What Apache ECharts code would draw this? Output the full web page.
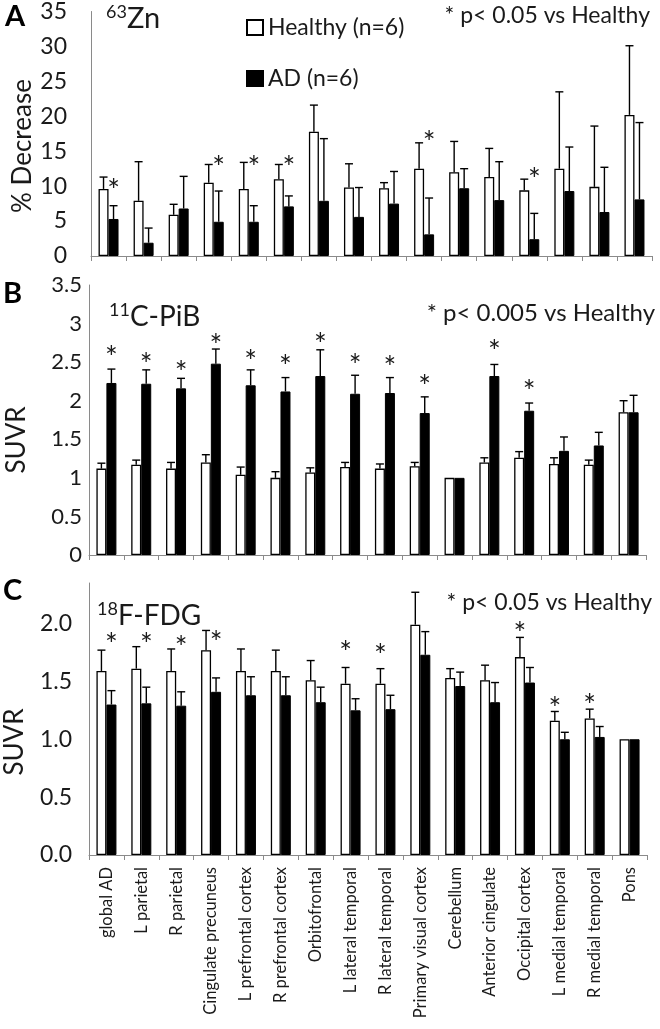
<!DOCTYPE html>
<html>
<head>
<meta charset="utf-8">
<script src="https://cdn.jsdelivr.net/npm/echarts@6/dist/echarts.min.js"></script>
<style>html,body{margin:0;padding:0;background:#fff}#c{width:660px;height:1029px}</style>
</head>
<body>
<div id="c"></div>
<script>
const categories = ['global AD','L parietal','R parietal','Cingulate precuneus','L prefrontal cortex','R prefrontal cortex','Orbitofrontal','L lateral temporal','R lateral temporal','Primary visual cortex','Cerebellum','Anterior cingulate','Occipital cortex','L medial temporal','R medial temporal','Pons'];
const seriesNames = ['Healthy (n=6)', 'AD (n=6)'];

// Panel A: 63Zn % decrease
const healthyA    = [9.6, 7.9, 5.9, 10.5, 9.6, 11.0, 17.8, 9.8, 9.7, 12.5, 12.0, 11.3, 9.4, 12.5, 9.9, 20.2];
const healthyErrA = [1.7, 5.6, 1.5, 2.6, 3.8, 2.1, 3.8, 3.4, 0.8, 3.7, 4.4, 4.1, 1.6, 11.0, 8.7, 9.9];
const adA         = [5.3, 1.9, 6.8, 4.9, 4.9, 7.1, 7.9, 5.6, 7.5, 3.1, 9.7, 8.0, 2.4, 9.3, 6.3, 8.1];
const adErrA      = [1.9, 2.1, 4.6, 4.4, 2.3, 1.5, 8.9, 4.2, 4.6, 5.2, 2.8, 5.5, 3.7, 6.3, 6.4, 11.0];
// stars: [category index, y value, bar (0 healthy, 1 AD)]
const starsA = [[0,10.3,1],[3,13.5,1],[4,13.5,1],[5,13.5,1],[9,17.1,1],[12,11.9,1]];

// Panel B: 11C-PiB SUVR
const healthyB    = [1.12, 1.17, 1.12, 1.20, 1.04, 1.00, 1.07, 1.14, 1.12, 1.15, 1.00, 1.20, 1.26, 1.18, 1.17, 1.85];
const healthyErrB = [0.07, 0.06, 0.08, 0.10, 0.10, 0.08, 0.06, 0.06, 0.06, 0.05, 0.00, 0.06, 0.08, 0.08, 0.06, 0.15];
const adB         = [2.23, 2.22, 2.16, 2.48, 2.20, 2.12, 2.32, 2.09, 2.10, 1.84, 1.00, 2.32, 1.87, 1.35, 1.42, 1.85];
const adErrB      = [0.18, 0.18, 0.13, 0.19, 0.20, 0.18, 0.34, 0.24, 0.20, 0.21, 0.00, 0.15, 0.10, 0.18, 0.17, 0.22];
const starsB = [[0,2.635,1],[1,2.55,1],[2,2.45,1],[3,2.79,1],[4,2.59,1],[5,2.52,1],[6,2.81,1],[7,2.54,1],[8,2.51,1],[9,2.27,1],[11,2.72,1],[12,2.20,1]];

// Panel C: 18F-FDG SUVR
const healthyC    = [1.59, 1.61, 1.59, 1.77, 1.59, 1.59, 1.51, 1.48, 1.48, 1.99, 1.53, 1.51, 1.71, 1.16, 1.18, 1.00];
const healthyErrC = [0.18, 0.19, 0.19, 0.17, 0.19, 0.18, 0.17, 0.14, 0.13, 0.28, 0.08, 0.13, 0.17, 0.08, 0.08, 0.00];
const adC         = [1.30, 1.31, 1.29, 1.41, 1.38, 1.38, 1.32, 1.25, 1.26, 1.73, 1.46, 1.32, 1.49, 1.00, 1.02, 1.00];
const adErrC      = [0.12, 0.14, 0.12, 0.12, 0.16, 0.16, 0.13, 0.10, 0.12, 0.20, 0.12, 0.17, 0.13, 0.06, 0.09, 0.00];
const starsC = [[0,1.876,1],[1,1.868,1],[2,1.847,1],[3,1.89,1],[7,1.80,0],[8,1.775,0],[12,1.963,0],[13,1.322,0],[14,1.348,0]];

const FONT = 'Lato';
const AXIS_GRAY = '#8a8a8a';
const TEXT = '#1a1a1a';
const BAR_W = 10;

const chart = echarts.init(document.getElementById('c'), null, {renderer: 'canvas'});

function errSeries(idx, means, errs, side) {
  return {
    type: 'custom', xAxisIndex: idx, yAxisIndex: idx, z: 5, silent: true,
    data: means.map((m, i) => [i, m, m + errs[i]]),
    renderItem: function (params, api) {
      const p0 = api.coord([api.value(0), api.value(1)]);
      const p1 = api.coord([api.value(0), api.value(2)]);
      if (Math.abs(p0[1] - p1[1]) < 0.5) return null;
      const x = p0[0] + (side === 0 ? -BAR_W / 2 : BAR_W / 2);
      const st = {stroke: '#000', lineWidth: 1.4};
      return {type: 'group', children: [
        {type: 'line', shape: {x1: x, y1: p0[1], x2: x, y2: p1[1]}, style: st},
        {type: 'line', shape: {x1: x - 4, y1: p1[1], x2: x + 4, y2: p1[1]}, style: st}
      ]};
    }
  };
}
function starSeries(idx, stars) {
  return {
    type: 'custom', xAxisIndex: idx, yAxisIndex: idx, z: 6, silent: true,
    data: stars,
    renderItem: function (params, api) {
      const p = api.coord([api.value(0), api.value(1)]);
      const x = p[0] + (api.value(2) === 0 ? -BAR_W / 2 : BAR_W / 2);
      return {type: 'text', x: x, y: p[1] + 7, style: {text: '*', fontSize: 30, fontFamily: FONT, fill: TEXT, align: 'center', verticalAlign: 'middle'}};
    }
  };
}
function barSeries(idx, h, a) {
  return [
    {name: seriesNames[0], type: 'bar', xAxisIndex: idx, yAxisIndex: idx, data: h, barWidth: BAR_W, barGap: '0%',
     itemStyle: {color: '#fff', borderColor: '#000', borderWidth: 1.3}, silent: true},
    {name: seriesNames[1], type: 'bar', xAxisIndex: idx, yAxisIndex: idx, data: a, barWidth: BAR_W, barGap: '0%',
     itemStyle: {color: '#000', borderColor: '#000', borderWidth: 1}, silent: true}
  ];
}
function xAx(idx, showLabels) {
  return {
    type: 'category', gridIndex: idx, data: categories,
    axisLine: {lineStyle: {color: AXIS_GRAY, width: 1}},
    axisTick: {show: true, interval: 0, length: 5, lineStyle: {color: AXIS_GRAY}},
    axisLabel: {show: showLabels, rotate: 90, interval: 0, fontSize: 16.5, fontFamily: FONT, color: TEXT, margin: 12}
  };
}
function yAx(idx, max, interval, fontSize, margin, fmt) {
  const o = {
    type: 'value', gridIndex: idx, min: 0, max: max, interval: interval,
    axisLine: {show: true, lineStyle: {color: AXIS_GRAY, width: 1}},
    axisTick: {show: false}, splitLine: {show: false},
    axisLabel: {fontSize: fontSize, fontFamily: FONT, color: TEXT, margin: margin, showMaxLabel: true}
  };
  if (fmt) { o.axisLabel.formatter = fmt; o.axisLabel.showMaxLabel = false; }
  return o;
}
const richTitle = (main) => ({
  s: {fontSize: 18, fontFamily: FONT, fontWeight: 'normal', color: TEXT, verticalAlign: 'top', lineHeight: 31},
  m: {fontSize: main, fontFamily: FONT, fontWeight: 'normal', color: TEXT, lineHeight: 31}
});

const option = {
  backgroundColor: '#fff',
  animation: false,
  textStyle: {fontFamily: FONT},
  grid: [
    {left: 91, right: 8, top: 8, height: 248},
    {left: 89, right: 14, top: 285, height: 270},
    {left: 89, right: 13, top: 583, height: 272}
  ],
  xAxis: [xAx(0, false), xAx(1, false), xAx(2, true)],
  yAxis: [
    yAx(0, 35, 5, 23, 24),
    yAx(1, 3.5, 0.5, 22, 7),
    yAx(2, 2.35, 0.5, 23, 17, v => v.toFixed(1))
  ],
  legend: {
    data: seriesNames, orient: 'vertical', left: 241, top: 11, itemWidth: 16, itemHeight: 15, itemGap: 28, icon: 'rect',
    textStyle: {fontSize: 23, fontFamily: FONT, color: TEXT}, selectedMode: false
  },
  title: [
    {text: 'A', left: 5, top: 2, padding: 0, textStyle: {fontSize: 29, fontWeight: 'bold', fontFamily: FONT, color: '#000'}},
    {text: 'B', left: 3, top: 279, padding: 0, textStyle: {fontSize: 29, fontWeight: 'bold', fontFamily: FONT, color: '#000'}},
    {text: 'C', left: 3, top: 576, padding: 0, textStyle: {fontSize: 29, fontWeight: 'bold', fontFamily: FONT, color: '#000'}},
    {text: '{s|63}{m|Zn}', left: 106, top: 3, padding: 0, textStyle: {fontWeight: 'normal', rich: richTitle(29)}},
    {text: '{s|11}{m|C-PiB}', left: 109, top: 301, padding: 0, textStyle: {fontWeight: 'normal', rich: richTitle(28)}},
    {text: '{s|18}{m|F-FDG}', left: 97, top: 600, padding: 0, textStyle: {fontWeight: 'normal', rich: richTitle(28)}},
    {text: '* p< 0.05 vs Healthy', right: 10, top: 4, padding: 0, textStyle: {fontSize: 23, fontWeight: 'normal', fontFamily: FONT, color: TEXT}},
    {text: '* p< 0.005 vs Healthy', right: 5, top: 301, padding: 0, textStyle: {fontSize: 24, fontWeight: 'normal', fontFamily: FONT, color: TEXT}},
    {text: '* p< 0.05 vs Healthy', right: 8, top: 591, padding: 0, textStyle: {fontSize: 23, fontWeight: 'normal', fontFamily: FONT, color: TEXT}}
  ],
  graphic: [
    {type: 'text', x: 23, y: 146, rotation: Math.PI / 2, style: {text: '% Decrease', fontSize: 26, fontFamily: FONT, fill: TEXT, align: 'center', verticalAlign: 'middle'}},
    {type: 'text', x: 17, y: 440, rotation: Math.PI / 2, style: {text: 'SUVR', fontSize: 26, fontFamily: FONT, fill: TEXT, align: 'center', verticalAlign: 'middle'}},
    {type: 'text', x: 15, y: 742, rotation: Math.PI / 2, style: {text: 'SUVR', fontSize: 26, fontFamily: FONT, fill: TEXT, align: 'center', verticalAlign: 'middle'}}
  ],
  series: [].concat(
    barSeries(0, healthyA, adA), errSeries(0, healthyA, healthyErrA, 0), errSeries(0, adA, adErrA, 1), starSeries(0, starsA),
    barSeries(1, healthyB, adB), errSeries(1, healthyB, healthyErrB, 0), errSeries(1, adB, adErrB, 1), starSeries(1, starsB),
    barSeries(2, healthyC, adC), errSeries(2, healthyC, healthyErrC, 0), errSeries(2, adC, adErrC, 1), starSeries(2, starsC)
  )
};
chart.setOption(option);
</script>
</body>
</html>
